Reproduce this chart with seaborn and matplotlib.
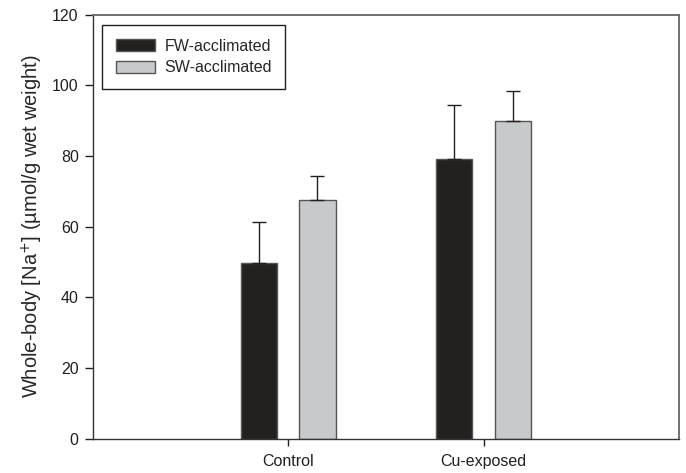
"""
plot.py — whole-body Na+ in FW- vs SW-acclimated fish, control vs Cu-exposed.

Writes out.png (686x473).
"""
import matplotlib
matplotlib.use("Agg")
import matplotlib.pyplot as plt
import numpy as np
import pandas as pd
import seaborn as sns

# Values
treatments = ["Control", "Cu-exposed"]
groups = ["FW-acclimated", "SW-acclimated"]
fw_mean = [49.6, 79.2]
sw_mean = [67.6, 89.9]
fw_err = [11.6, 15.3]
sw_err = [6.7, 8.5]

y_ticks = [0, 20, 40, 60, 80, 100, 120]

bar_colors = {"FW-acclimated": "#231f20", "SW-acclimated": "#c8c9cb"}


def main() -> None:
    sns.set_style("ticks")
    plt.rcParams["font.family"] = ["Liberation Sans", "DejaVu Sans"]

    df = pd.DataFrame({
        "treatment": treatments * 2,
        "group": [groups[0]] * len(treatments) + [groups[1]] * len(treatments),
        "value": fw_mean + sw_mean,
    })
    errs = {groups[0]: fw_err, groups[1]: sw_err}

    fig = plt.figure(figsize=(6.86, 4.73), dpi=100)
    ax = fig.add_axes([0.135, 0.0725, 0.855, 0.8965])

    sns.barplot(
        data=df, x="treatment", y="value", hue="group",
        order=treatments, hue_order=groups, palette=bar_colors,
        width=0.6, gap=0.38, errorbar=None,
        edgecolor="#555555", linewidth=1.0, ax=ax,
    )

    # upper-only error bars, placed on the bars seaborn drew
    for cont, grp in zip(ax.containers, groups):
        for bar, e in zip(cont, errs[grp]):
            xc = bar.get_x() + bar.get_width() / 2
            ax.errorbar(
                xc, bar.get_height(), yerr=[[0], [e]], fmt="none",
                ecolor="#231f20", elinewidth=1.0, capsize=4.7, capthick=1.0,
                zorder=1,
            )

    ax.set_xlim(-1, 2)
    ax.set_ylim(0, 120)
    ax.set_yticks(y_ticks)
    ax.set_xlabel("")
    ax.set_ylabel("Whole-body [Na$^{+}$] (µmol/g wet weight)", fontsize=14.5, labelpad=5)
    ax.tick_params(axis="both", labelsize=11.5, colors="#231f20", width=1.0)
    ax.tick_params(axis="y", length=6, pad=4)
    ax.tick_params(axis="x", length=5, pad=6)

    for side in ["left", "bottom"]:
        ax.spines[side].set_color("#333333")
        ax.spines[side].set_linewidth(1.0)
    for side in ["top", "right"]:
        ax.spines[side].set_visible(True)
        ax.spines[side].set_color("#666666")
        ax.spines[side].set_linewidth(1.3)

    leg = ax.legend(
        loc="upper left", bbox_to_anchor=(0.016, 0.975), borderaxespad=0,
        fontsize=11.5, frameon=True, fancybox=False, shadow=False,
        handlelength=2.45, handleheight=0.75, handletextpad=0.6,
        borderpad=0.85, labelspacing=0.4, title=None,
    )
    leg.get_frame().set_edgecolor("#231f20")
    leg.get_frame().set_linewidth(1.0)
    leg.get_frame().set_alpha(1.0)

    fig.savefig("out.png", dpi=100)
    plt.close(fig)


if __name__ == "__main__":
    main()
